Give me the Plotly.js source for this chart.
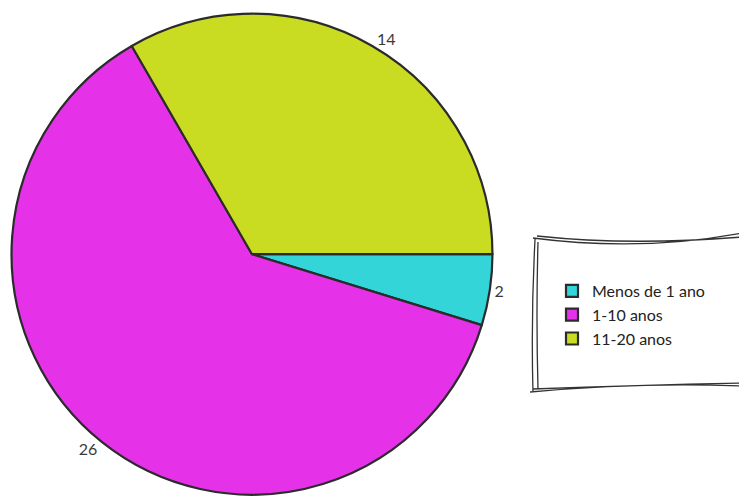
<!DOCTYPE html>
<html>
<head>
<meta charset="utf-8">
<script src="https://cdn.plot.ly/plotly-3.0.1.min.js"></script>
<style>html,body{margin:0;padding:0;background:#fff;}#chart{width:739px;height:496px;}</style>
</head>
<body>
<div id="chart"></div>
<script>
const labels = ["Menos de 1 ano", "1-10 anos", "11-20 anos"];
const values = [2, 26, 14];
const colors = ["#33d5d8", "#e532e8", "#c9dc22"];

const W = 739, H = 496;
const px = x => x / W;
const py = y => 1 - y / H;

// hand-drawn legend frame (pixel path converted to paper coords)
function P(x, y) { return px(x).toFixed(4) + "," + py(y).toFixed(4); }
const framePath =
  "M" + P(533, 238) + " Q" + P(640, 252) + " " + P(742, 233) +
  " M" + P(537, 236) + " Q" + P(630, 246) + " " + P(742, 237) +
  " M" + P(535, 239) + " Q" + P(531, 315) + " " + P(533, 392) +
  " M" + P(538, 242) + " Q" + P(536, 315) + " " + P(538, 389) +
  " M" + P(530, 392) + " Q" + P(640, 382) + " " + P(742, 386) +
  " M" + P(533, 389) + " Q" + P(640, 385) + " " + P(742, 383);

const data = [{
  type: "pie",
  labels: labels,
  values: values,
  sort: false,
  direction: "clockwise",
  rotation: 90,
  textinfo: "value",
  textposition: "outside",
  textfont: {family: "Lato, 'Open Sans', sans-serif", size: 16, color: "#3a3a3a"},
  marker: {
    colors: colors,
    line: {color: "#2b2b2b", width: 2.2}
  },
  domain: {x: [0.0156, 0.6664], y: [0, 0.975]},
  hoverinfo: "label+value"
}];

const layout = {
  width: W, height: H,
  margin: {l: 0, r: 0, t: 0, b: 0},
  paper_bgcolor: "#ffffff",
  showlegend: true,
  legend: {
    x: px(552), xanchor: "left",
    y: py(315), yanchor: "middle",
    bgcolor: "rgba(0,0,0,0)",
    borderwidth: 0,
    font: {family: "Lato, 'Open Sans', sans-serif", size: 16, color: "#222"}
  },
  shapes: [{
    type: "path", xref: "paper", yref: "paper",
    path: framePath,
    line: {color: "#333", width: 1.3},
    layer: "below"
  }]
};

Plotly.newPlot("chart", data, layout, {displayModeBar: false, staticPlot: true});
</script>
</body>
</html>
